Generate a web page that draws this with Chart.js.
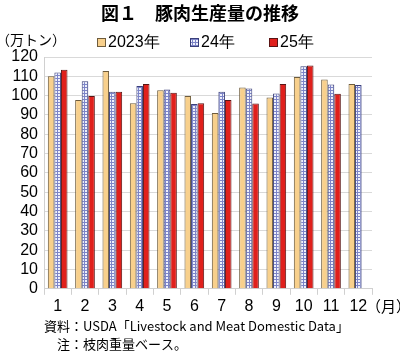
<!DOCTYPE html>
<html lang="ja">
<head>
  <meta charset="UTF-8" />
  <title>豚肉生産量の推移</title>
  <style>
    body {
      margin: 0;
      background: #ffffff;
      font-family: "Noto Sans CJK JP", "Liberation Sans", sans-serif;
    }
    .wrap {
      position: relative;
      width: 400px;
      height: 353px;
    }
  </style>
</head>
<body>
  <div class="wrap">
    <canvas id="chart" width="400" height="353"></canvas>
  </div>
  <script src="https://cdn.jsdelivr.net/npm/chart.js"></script>
  <script>
    const months = ["1", "2", "3", "4", "5", "6", "7", "8", "9", "10", "11", "12"];
    const y2023 = [110, 97.7, 112.7, 96, 102.8, 99.8, 91, 104.2, 99, 109.6, 108.3, 106];
    const y2024 = [112, 107.4, 102, 105, 103.2, 95.7, 102, 103.7, 101.1, 115.2, 105.7, 105.5];
    const y2025 = [113.4, 99.8, 102, 106, 101.5, 96, 97.7, 95.9, 106, 115.6, 101, null];
    const yTicks = [0, 10, 20, 30, 40, 50, 60, 70, 80, 90, 100, 110, 120];

    const titleText = "図１　豚肉生産量の推移";
    const unitText = "（万トン）";
    const monthUnit = "（月）";
    const notes = ["資料：USDA「Livestock and Meat Domestic Data」", "　注：枝肉重量ベース。"];

    // blue checked fill for 24年
    function gridPattern() {
      const c = document.createElement("canvas");
      c.width = 3;
      c.height = 3;
      const g = c.getContext("2d");
      g.fillStyle = "#eef0fb";
      g.fillRect(0, 0, 3, 3);
      g.fillStyle = "#7c84c8";
      g.fillRect(0, 0, 3, 1);
      g.fillRect(0, 0, 1, 3);
      return g.createPattern(c, "repeat");
    }
    const blueFill = gridPattern();

    const legendX = [97, 190, 269];

    const textPlugin = {
      id: "texts",
      afterDraw(chart) {
        const ctx = chart.ctx;
        ctx.save();
        ctx.fillStyle = "#000";
        ctx.textBaseline = "middle";
        ctx.font = "bold 18px 'Noto Sans CJK JP'";
        ctx.textAlign = "center";
        ctx.fillText(titleText, 200, 13);
        ctx.font = "14px 'Noto Sans CJK JP'";
        ctx.textAlign = "left";
        ctx.fillText(unitText, -4, 40);

        // legend
        chart.data.datasets.forEach((ds, i) => {
          const x = legendX[i];
          ctx.fillStyle = ds.backgroundColor;
          ctx.fillRect(x, 38, 8, 8);
          ctx.strokeStyle = ds.borderColor;
          ctx.lineWidth = 1;
          ctx.strokeRect(x + 0.5, 38.5, 8, 8);
          ctx.fillStyle = "#000";
          ctx.font = "16px 'Liberation Sans'";
          ctx.fillText(ds.label, x + 11, 43);
        });

        const xs = chart.scales.x;
        ctx.font = "15px 'Noto Sans CJK JP'";
        ctx.fillText(monthUnit, 366, xs.bottom - 12);
        ctx.font = "13px 'Noto Sans CJK JP'";
        ctx.fillText(notes[0], 44, 326);
        ctx.fillText(notes[1], 44, 344);
        ctx.restore();
      }
    };

    new Chart(document.getElementById("chart"), {
      type: "bar",
      data: {
        labels: months,
        datasets: [
          { label: "2023年", data: y2023, backgroundColor: "#f8d08c", borderColor: "#6e5c3c", borderWidth: 1 },
          { label: "24年", data: y2024, backgroundColor: blueFill, borderColor: "#3a3f7a", borderWidth: 1 },
          { label: "25年", data: y2025, backgroundColor: "#e0201c", borderColor: "#5a1414", borderWidth: 1 }
        ]
      },
      options: {
        responsive: false,
        animation: false,
        layout: { padding: { top: 57, right: 28, bottom: 35, left: 0 } },
        datasets: { bar: { categoryPercentage: 0.72, barPercentage: 1.0 } },
        plugins: {
          legend: { display: false },
          tooltip: { enabled: false }
        },
        scales: {
          x: {
            grid: { offset: true, drawOnChartArea: false, tickLength: 6, color: "#d0d0d0" },
            border: { color: "#d0d0d0" },
            ticks: { color: "#000", font: { size: 16, family: "Liberation Sans" }, padding: 2 }
          },
          y: {
            min: 0,
            max: 120,
            afterBuildTicks(axis) { axis.ticks = yTicks.map(v => ({ value: v })); },
            afterFit(axis) { axis.width = 44; },
            grid: { color: "#d9d9d9", tickLength: 0 },
            border: { color: "#d0d0d0" },
            ticks: { autoSkip: false, color: "#000", font: { size: 16, family: "Liberation Sans" }, padding: 6 }
          }
        }
      },
      plugins: [textPlugin]
    });
  </script>
</body>
</html>
